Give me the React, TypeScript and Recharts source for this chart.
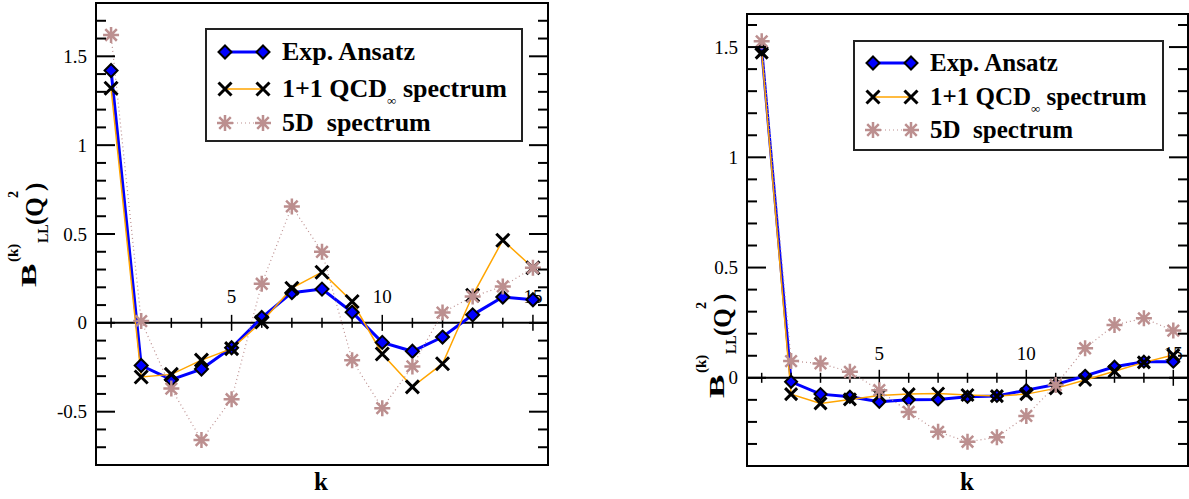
import React from 'react'
import { LineChart, Line, XAxis, YAxis, ReferenceLine, ReferenceArea, ReferenceDot } from 'recharts'

const kValues = [1, 2, 3, 4, 5, 6, 7, 8, 9, 10, 11, 12, 13, 14, 15]
const xLabelled = [5, 10, 15]

// left panel
const leftExp = [1.42, -0.24, -0.32, -0.26, -0.14, 0.03, 0.17, 0.19, 0.06, -0.11, -0.16, -0.08, 0.045, 0.145, 0.13]
const leftQcd = [1.32, -0.305, -0.29, -0.21, -0.145, 0.005, 0.195, 0.285, 0.12, -0.175, -0.36, -0.23, 0.155, 0.465, 0.31]
const left5d = [1.62, 0.01, -0.37, -0.66, -0.43, 0.22, 0.655, 0.4, -0.21, -0.48, -0.245, 0.058, 0.148, 0.205, 0.31]
const leftYTicks = [-0.7, -0.6, -0.5, -0.4, -0.3, -0.2, -0.1, 0, 0.1, 0.2, 0.3, 0.4, 0.5, 0.6, 0.7, 0.8, 0.9, 1, 1.1, 1.2, 1.3, 1.4, 1.5, 1.6, 1.7]

// right panel
const rightExp = [1.49, -0.018, -0.074, -0.086, -0.109, -0.1, -0.098, -0.086, -0.082, -0.056, -0.03, 0.009, 0.05, 0.073, 0.073]
const rightQcd = [1.475, -0.074, -0.116, -0.098, -0.08, -0.074, -0.071, -0.078, -0.083, -0.074, -0.048, -0.01, 0.03, 0.07, 0.103]
const right5d = [1.526, 0.076, 0.065, 0.027, -0.056, -0.155, -0.245, -0.29, -0.27, -0.173, -0.033, 0.134, 0.24, 0.27, 0.214]
const rightYTicks = [-0.3, -0.2, -0.1, 0, 0.1, 0.2, 0.3, 0.4, 0.5, 0.6, 0.7, 0.8, 0.9, 1, 1.1, 1.2, 1.3, 1.4, 1.5, 1.6]

const seriesNames = ['Exp. Ansatz', '1+1 QCD', '5D  spectrum']

const FONT = '"Liberation Serif", "Times New Roman", serif'
const BLUE = '#0000ff'
const ORANGE = '#ffa500'
const ROSY = '#bc8f8f'

const Diamond = ({ cx, cy, r = 6.5 }: any) => (
  <polygon
    points={`${cx},${cy - r} ${cx + r},${cy} ${cx},${cy + r} ${cx - r},${cy}`}
    fill={BLUE}
    stroke="#000"
    strokeWidth={2}
  />
)

const Cross = ({ cx, cy, r = 6.5 }: any) => (
  <path d={`M${cx - r},${cy - r}L${cx + r},${cy + r}M${cx - r},${cy + r}L${cx + r},${cy - r}`} stroke="#000" strokeWidth={3} fill="none" />
)

const Star = ({ cx, cy, r = 8 }: any) => {
  const d = r * 0.72
  return (
    <path
      d={`M${cx},${cy - r}L${cx},${cy + r}M${cx - r},${cy}L${cx + r},${cy}M${cx - d},${cy - d}L${cx + d},${cy + d}M${cx - d},${cy + d}L${cx + d},${cy - d}`}
      stroke={ROSY}
      strokeWidth={2.5}
      fill="none"
    />
  )
}

const makeYTick = (plotLeft: number, plotRight: number) => (props: any) => {
  const { y, payload } = props
  const v = payload.value
  const major = Math.abs(v * 2 - Math.round(v * 2)) < 1e-6
  const len = major ? 19 : 10
  return (
    <g>
      <line x1={plotLeft} x2={plotLeft + len} y1={y} y2={y} stroke="#000" strokeWidth={2} />
      <line x1={plotRight - len} x2={plotRight} y1={y} y2={y} stroke="#000" strokeWidth={2} />
      {major && (
        <text x={plotLeft - 9} y={y} textAnchor="end" dominantBaseline="central" fontFamily={FONT} fontSize={19} fill="#000">
          {String(v)}
        </text>
      )}
    </g>
  )
}

const XTickMark = ({ cx, cy, k, lift }: any) => {
  const major = xLabelled.includes(k)
  const h = major ? 8 : 5
  return (
    <g>
      <line x1={cx} x2={cx} y1={cy - h} y2={cy + h} stroke="#000" strokeWidth={1.5} />
      {major && (
        <text x={cx} y={cy - lift} textAnchor="middle" dominantBaseline="central" fontFamily={FONT} fontSize={19} fill="#000">
          {k}
        </text>
      )}
    </g>
  )
}

type PanelProps = {
  left: number
  width: number
  height: number
  margin: { top: number; right: number; bottom: number; left: number }
  yAxisWidth: number
  plotRight: number
  yDomain: [number, number]
  yTicks: number[]
  exp: number[]
  qcd: number[]
  fived: number[]
  lift: number
  markerR: number
}

const Panel = (p: PanelProps) => {
  const data = kValues.map((k, i) => ({ k, exp: p.exp[i], qcd: p.qcd[i], fived: p.fived[i] }))
  const plotLeft = p.margin.left + p.yAxisWidth
  return (
    <div style={{ position: 'absolute', left: p.left, top: 0 }}>
      <LineChart width={p.width} height={p.height} data={data} margin={p.margin}>
        <XAxis type="number" dataKey="k" domain={[0.5, 15.5]} hide allowDataOverflow />
        <YAxis
          type="number"
          domain={p.yDomain}
          ticks={p.yTicks}
          interval={0}
          allowDataOverflow
          width={p.yAxisWidth}
          axisLine={false}
          tickLine={false}
          tick={makeYTick(plotLeft, p.plotRight)}
        />
        <ReferenceArea x1={0.5} x2={15.5} y1={p.yDomain[0]} y2={p.yDomain[1]} fill="none" stroke="#000" strokeWidth={2} />
        <ReferenceLine y={0} stroke="#000" strokeWidth={2} />
        {kValues.map((k) => (
          <ReferenceDot key={k} x={k} y={0} r={0} shape={(s: any) => <XTickMark cx={s.cx} cy={s.cy} k={k} lift={p.lift} />} />
        ))}
        <Line
          type="linear"
          dataKey="exp"
          stroke={BLUE}
          strokeWidth={3}
          isAnimationActive={false}
          activeDot={false}
          dot={(d: any) => <Diamond key={`e${d.index}`} cx={d.cx} cy={d.cy} r={p.markerR} />}
        />
        <Line
          type="linear"
          dataKey="qcd"
          stroke={ORANGE}
          strokeWidth={1.5}
          isAnimationActive={false}
          activeDot={false}
          dot={(d: any) => <Cross key={`q${d.index}`} cx={d.cx} cy={d.cy} r={p.markerR} />}
        />
        <Line
          type="linear"
          dataKey="fived"
          stroke={ROSY}
          strokeWidth={1.2}
          strokeDasharray="1 3"
          isAnimationActive={false}
          activeDot={false}
          dot={(d: any) => <Star key={`f${d.index}`} cx={d.cx} cy={d.cy} r={8} />}
        />
      </LineChart>
    </div>
  )
}

const LegendBox = ({ left, top, width, height, rows, fontSize }: any) => {
  const sym = [
    (x: number, y: number) => <Diamond cx={x} cy={y} r={6.5} />,
    (x: number, y: number) => <Cross cx={x} cy={y} r={6.5} />,
    (x: number, y: number) => <Star cx={x} cy={y} r={8} />,
  ]
  const lineStyle = [
    { stroke: BLUE, strokeWidth: 3 },
    { stroke: ORANGE, strokeWidth: 1.5 },
    { stroke: ROSY, strokeWidth: 1.2, strokeDasharray: '1 3' },
  ]
  return (
    <div
      style={{
        position: 'absolute',
        left,
        top,
        width,
        height,
        border: '2px solid #222',
        boxSizing: 'border-box',
        background: '#fff',
        fontFamily: FONT,
        fontWeight: 'bold',
        fontSize,
        color: '#000',
      }}
    >
      <svg width={70} height={height} style={{ position: 'absolute', left: 0, top: 0 }}>
        {rows.map((ry: number, i: number) => (
          <g key={i}>
            <line x1={18} x2={56} y1={ry} y2={ry} {...lineStyle[i]} />
            {sym[i](18, ry)}
            {sym[i](56, ry)}
          </g>
        ))}
      </svg>
      {rows.map((ry: number, i: number) => (
        <div key={i} style={{ position: 'absolute', left: 75, top: ry - 16, lineHeight: '32px', whiteSpace: 'pre' }}>
          {i === 1 ? (
            <>
              {'1+1 QCD'}
              <span style={{ fontSize: 13, fontWeight: 'normal', position: 'relative', top: 8 }}>∞</span>
              {' spectrum'}
            </>
          ) : (
            seriesNames[i]
          )}
        </div>
      ))}
    </div>
  )
}

const YLabel = ({ x, y }: any) => (
  <div
    style={{
      position: 'absolute',
      left: x,
      top: y,
      width: 110,
      height: 45,
      transform: 'rotate(-90deg)',
      transformOrigin: '0 0',
      fontFamily: FONT,
      fontWeight: 'bold',
      color: '#000',
      whiteSpace: 'nowrap',
    }}
  >
    <span style={{ position: 'absolute', left: 0, top: 10, fontSize: 22, lineHeight: 1, display: 'inline-block', transform: 'scaleX(1.6)', transformOrigin: '0 0' }}>B</span>
    <span style={{ position: 'absolute', left: 25, top: -2, fontSize: 15, lineHeight: 1 }}>(k)</span>
    <span style={{ position: 'absolute', left: 44, top: 29, fontSize: 14, lineHeight: 1 }}>LL</span>
    <span style={{ position: 'absolute', left: 62, top: 14, fontSize: 25, lineHeight: 1 }}>(Q</span>
    <span style={{ position: 'absolute', left: 89, top: -1, fontSize: 14, lineHeight: 1 }}>2</span>
    <span style={{ position: 'absolute', left: 96, top: 14, fontSize: 25, lineHeight: 1 }}>)</span>
  </div>
)

const KLabel = ({ x }: any) => (
  <div style={{ position: 'absolute', left: x - 8, top: 469, fontFamily: FONT, fontWeight: 'bold', fontSize: 25, lineHeight: '26px', color: '#000' }}>k</div>
)

export default function App() {
  return (
    <div style={{ position: 'absolute', left: 0, top: 0, width: 1189, height: 499, background: '#fff', overflow: 'hidden' }}>
      <Panel
        left={0}
        width={560}
        height={499}
        margin={{ top: 3, right: 12, bottom: 34, left: 36 }}
        yAxisWidth={60}
        plotRight={548}
        yDomain={[-0.8, 1.8]}
        yTicks={leftYTicks}
        exp={leftExp}
        qcd={leftQcd}
        fived={left5d}
        lift={26}
        markerR={6.5}
      />
      <Panel
        left={690}
        width={499}
        height={499}
        margin={{ top: 14, right: 1, bottom: 33, left: 17 }}
        yAxisWidth={40}
        plotRight={498}
        yDomain={[-0.4, 1.65]}
        yTicks={rightYTicks}
        exp={rightExp}
        qcd={rightQcd}
        fived={right5d}
        lift={24}
        markerR={6}
      />
      <LegendBox left={205} top={28} width={318} height={114} rows={[22, 59, 93]} fontSize={26} />
      <LegendBox left={853} top={40} width={311} height={111} rows={[21, 55, 88]} fontSize={25} />
      <YLabel x={8} y={287} />
      <YLabel x={696} y={398} />
      <KLabel x={322} />
      <KLabel x={968} />
    </div>
  )
}
